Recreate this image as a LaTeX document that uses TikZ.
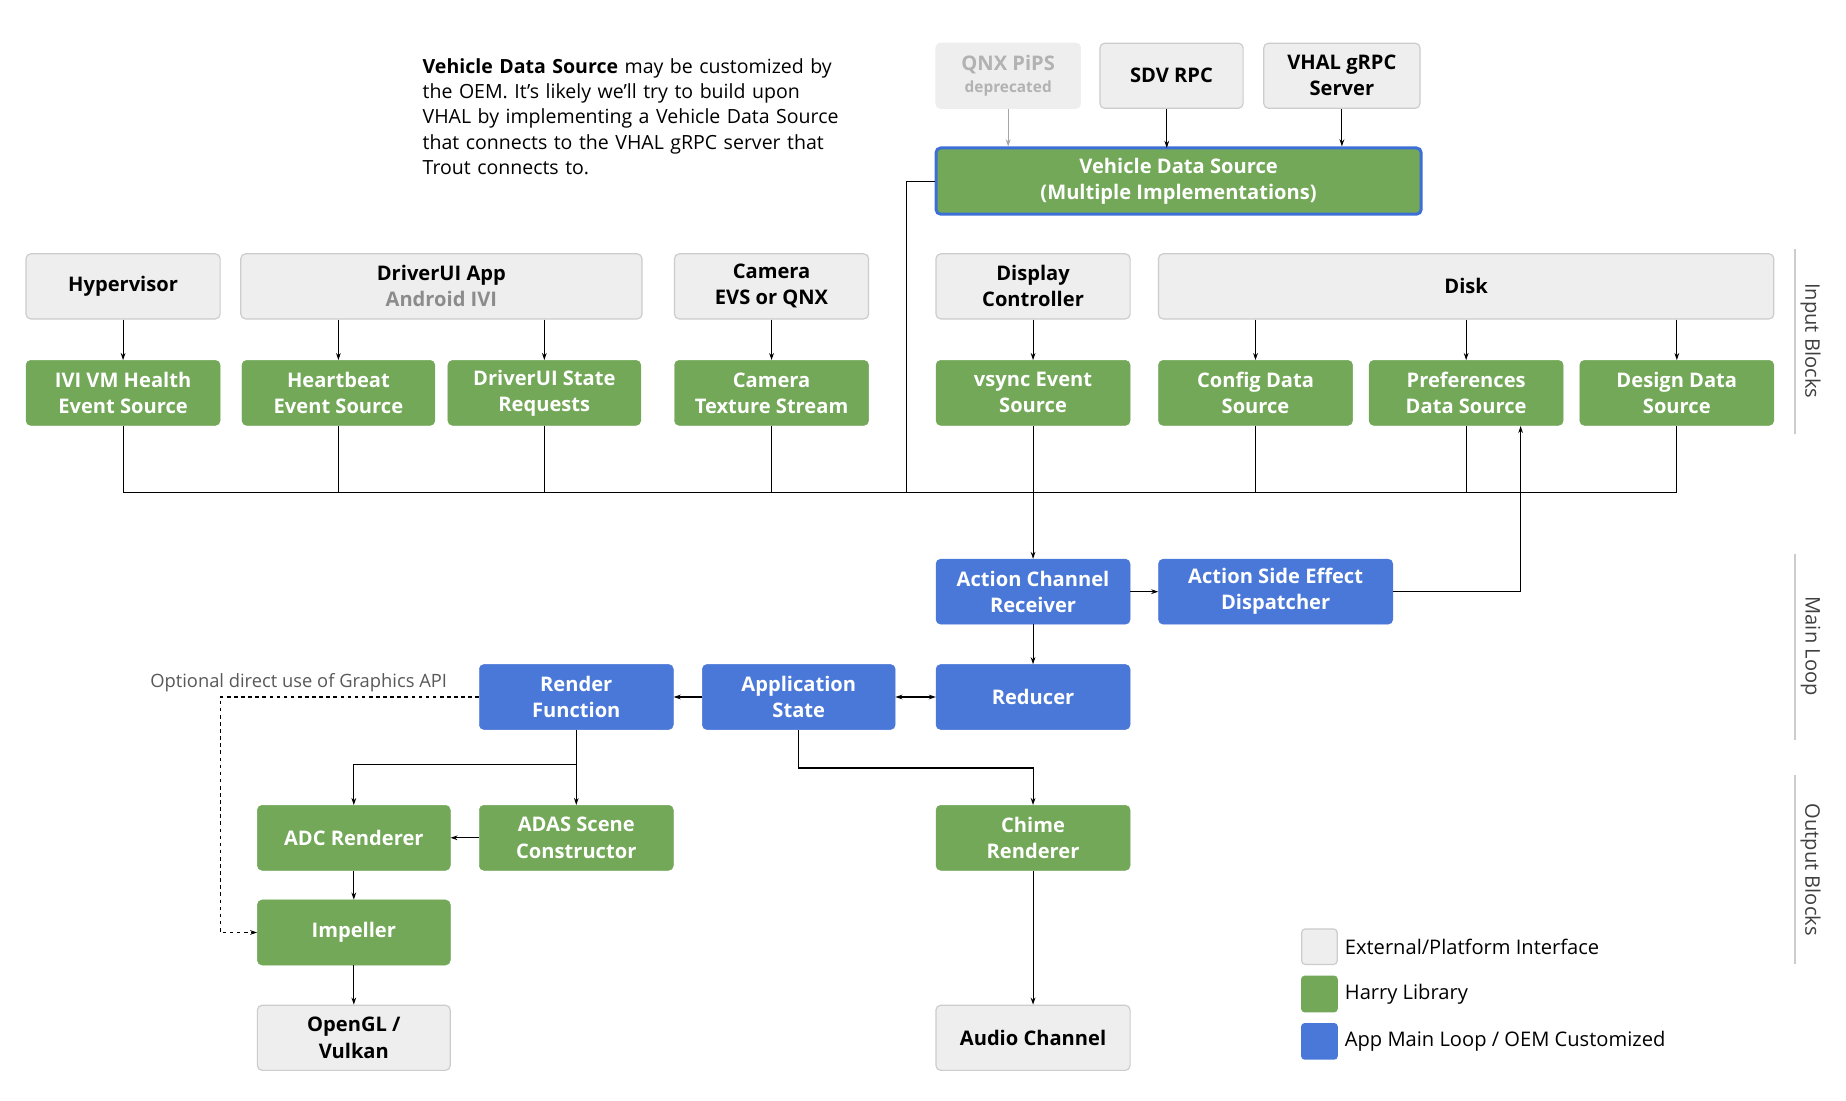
\documentclass[tikz,border=0pt]{standalone}
\usepackage{fontspec}
\setmainfont{Open Sans}
\usetikzlibrary{arrows.meta}
\definecolor{gfill}{HTML}{EEEEEE}
\definecolor{gdraw}{HTML}{CCCCCC}
\definecolor{hgreen}{HTML}{72A857}
\definecolor{hblue}{HTML}{4A78D8}
\definecolor{vblue}{HTML}{3D6FD6}
\tikzset{
 base/.style={rounded corners=4pt,minimum height=55pt,align=center,font=\fontsize{17}{22}\selectfont\bfseries,inner sep=2pt},
 ext/.style={base,fill=gfill,draw=gdraw,line width=1pt,text=black},
 grn/.style={base,fill=hgreen,draw=hgreen,text=white},
 blu/.style={base,fill=hblue,draw=hblue,text=white},
 w/.style={minimum width=#1pt},
 arr/.style={-{Stealth[length=6pt,width=4pt]},line width=0.9pt},
 ln/.style={line width=0.9pt},
 side/.style={rotate=-90,font=\fontsize{17}{20}\selectfont,text=black!75},
}
\begin{document}
\begin{tikzpicture}[x=1pt,y=-1pt]
\useasboundingbox (0,0) rectangle (1560,930);
\fill[white] (0,0) rectangle (1560,930);
% paragraph
\node[anchor=north west,align=left,font=\fontsize{16.5}{21.5}\selectfont,text width=380pt,inner sep=0] (para) at (357,49) {\textbf{Vehicle Data Source} may be customized by\\the OEM. It's likely we'll try to build upon\\VHAL by implementing a Vehicle Data Source\\that connects to the VHAL gRPC server that\\Trout connects to.};
% external top
\node[ext,w=122,text=black!30,draw=gfill] (qnx) at (852,64) {QNX PiPS\\[-4pt]{\fontsize{13}{15}\selectfont deprecated}};
\node[ext,w=121] (sdv) at (990,64) {SDV RPC};
\node[ext,w=132] (vhal) at (1134,64) {VHAL gRPC\\Server};
\node[grn,w=410,draw=vblue,line width=2.5pt,minimum height=56pt] (vds) at (996,153) {Vehicle Data Source\\(Multiple Implementations)};
% inputs
\node[ext,w=164] (hyp) at (104,242) {Hypervisor};
\node[ext,w=339] (dui) at (373,242) {DriverUI App\\{\color{black!45}Android IVI}};
\node[ext,w=164] (cam) at (652,242) {Camera\\EVS or QNX};
\node[ext,w=164] (disp) at (873,242) {Display\\Controller};
\node[ext,w=520] (disk) at (1239,242) {Disk};
\node[grn,w=164] (ivi) at (104,332) {IVI VM Health\\Event Source};
\node[grn,w=163] (hb) at (286,332) {Heartbeat\\Event Source};
\node[grn,w=163] (dsr) at (460,332) {DriverUI State\\Requests};
\node[grn,w=164] (cts) at (652,332) {Camera\\Texture Stream};
\node[grn,w=164] (vs) at (873,332) {vsync Event\\Source};
\node[grn,w=164] (cfg) at (1061,332) {Config Data\\Source};
\node[grn,w=164] (pref) at (1239,332) {Preferences\\Data Source};
\node[grn,w=164] (des) at (1417,332) {Design Data\\Source};
% main loop
\node[blu,w=164] (acr) at (873,500) {Action Channel\\Receiver};
\node[blu,w=198] (ased) at (1078,500) {Action Side Effect\\Dispatcher};
\node[blu,w=164] (rf) at (487,589) {Render\\Function};
\node[blu,w=163] (as) at (675,589) {Application\\State};
\node[blu,w=164] (red) at (873,589) {Reducer};
% outputs
\node[grn,w=163] (adc) at (299,708) {ADC Renderer};
\node[grn,w=164] (adas) at (487,708) {ADAS Scene\\Constructor};
\node[grn,w=164] (chime) at (873,708) {Chime\\Renderer};
\node[grn,w=163] (imp) at (299,788) {Impeller};
\node[ext,w=163] (gl) at (299,877) {OpenGL /\\Vulkan};
\node[ext,w=164] (audio) at (873,877) {Audio Channel};
% top arrows
\draw[arr,black!35] (qnx.south) -- (vds.north -| qnx.south);
\draw[arr] (986,92) -- (986,125);
\draw[arr] (vhal.south) -- (vhal.south |- vds.north);
\draw[arr] (hyp) -- (ivi);
\draw[arr] (hb.north |- dui.south) -- (hb);
\draw[arr] (dsr.north |- dui.south) -- (dsr);
\draw[arr] (cam) -- (cts);
\draw[arr] (disp) -- (vs);
\draw[arr] (cfg.north |- disk.south) -- (cfg);
\draw[arr] (pref.north |- disk.south) -- (pref);
\draw[arr] (des.north |- disk.south) -- (des);
% bus
\coordinate (bl) at (104,416);
\coordinate (br) at (1417,416);
\draw[ln] (ivi.south) -- (bl) -- (br) -- (des.south);
\foreach \n in {hb,dsr,cts,vs,cfg,pref} \draw[ln] (\n.south) -- (\n.south |- bl);
\draw[ln] (vds.west) -- (766,153) -- (766,416);
\draw[arr] (873,416) -- (acr.north);
% main loop
\draw[arr] (acr) -- (ased);
\draw[arr] (ased.east) -- (1285,500) -- (1285,360);
\draw[arr] (acr) -- (red);
\draw[{Stealth[length=6pt,width=4pt]}-{Stealth[length=6pt,width=4pt]},line width=0.9pt] (as) -- (red);
\draw[arr] (as) -- (rf);
\draw[arr] (rf.south) -- (487,646) -- (299,646) -- (adc.north);
\draw[arr] (487,646) -- (adas.north);
\draw[arr] (adas) -- (adc);
\draw[arr] (adc) -- (imp);
\draw[arr] (imp) -- (gl);
\draw[arr] (as.south) -- (675,649) -- (873,649) -- (chime.north);
\draw[arr] (chime) -- (audio);
\draw[arr,dashed] (rf.west) -- (186,589) -- (186,788) -- (imp.west);
\node[anchor=base east,font=\fontsize{15.5}{18}\selectfont,text=black!65,inner sep=0] (opt) at (378,581) {Optional direct use of Graphics API};
% side labels
\draw[gdraw,line width=1.5pt] (1517,210) -- (1517,367);
\draw[gdraw,line width=1.5pt] (1517,468) -- (1517,625);
\draw[gdraw,line width=1.5pt] (1517,655) -- (1517,815);
\node[side] (lin) at (1530,288) {Input Blocks};
\node[side] (lml) at (1530,546) {Main Loop};
\node[side] (lob) at (1530,735) {Output Blocks};
% legend
\node[fill=gfill,draw=gdraw,line width=1pt,rounded corners=3pt,minimum size=30pt,inner sep=0] (k1) at (1115,800) {};
\node[fill=hgreen,rounded corners=3pt,minimum size=31pt,inner sep=0] (k2) at (1115,840) {};
\node[fill=hblue,rounded corners=3pt,minimum size=31pt,inner sep=0] (k3) at (1115,880) {};
\node[anchor=west,font=\fontsize{17}{20}\selectfont] (t1) at (1133,800) {External/Platform Interface};
\node[anchor=west,font=\fontsize{17}{20}\selectfont] (t2) at (1133,840) {Harry Library};
\node[anchor=west,font=\fontsize{17}{20}\selectfont] (t3) at (1133,880) {App Main Loop / OEM Customized};
\end{tikzpicture}
\end{document}
